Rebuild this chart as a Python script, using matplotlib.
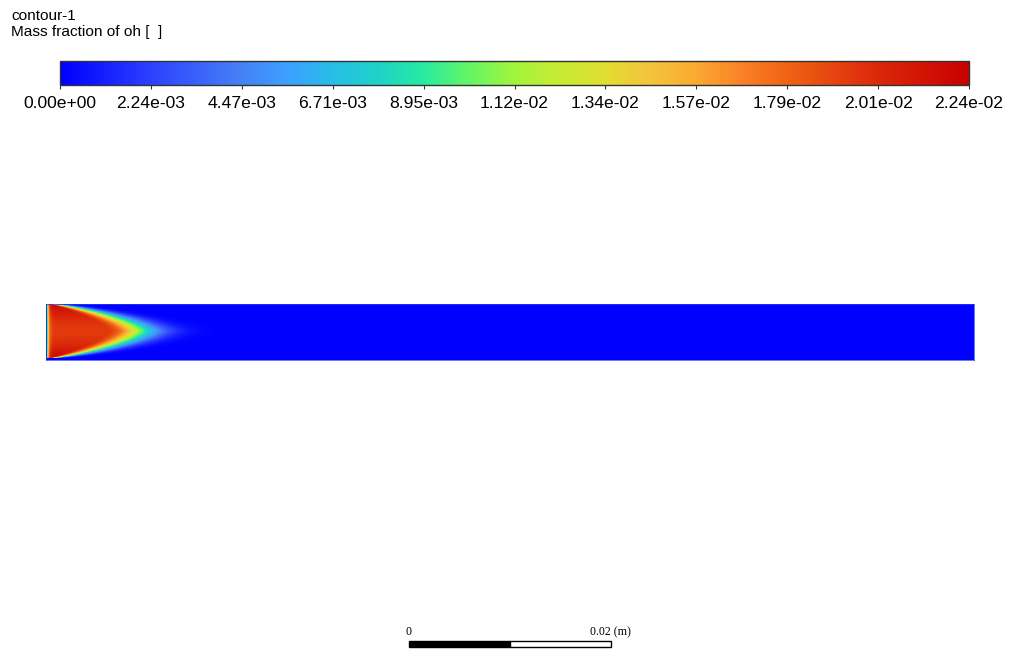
import numpy as np
import matplotlib
matplotlib.use('Agg')
import matplotlib.pyplot as plt
from matplotlib.colors import LinearSegmentedColormap, Normalize
from matplotlib.patches import Rectangle

# text
title_lines = ['contour-1', 'Mass fraction of oh [  ]']
tick_labels = ['0.00e+00', '2.24e-03', '4.47e-03', '6.71e-03', '8.95e-03', '1.12e-02',
               '1.34e-02', '1.57e-02', '1.79e-02', '2.01e-02', '2.24e-02']
vmin = 0.0
vmax = 0.022368

# fluent-like rainbow
cmap_pos = [0.0, 0.1, 0.2, 0.25, 0.3, 0.35, 0.4, 0.45, 0.5, 0.55, 0.6, 0.65,
            0.7, 0.75, 0.8, 0.85, 0.9, 0.95, 1.0]
cmap_rgb = [(0, 0, 255), (45, 65, 255), (70, 130, 245), (60, 160, 255), (40, 190, 230),
            (30, 210, 200), (40, 235, 160), (100, 245, 100), (160, 245, 60), (200, 235, 50),
            (225, 222, 50), (245, 195, 60), (250, 170, 50), (250, 130, 40), (240, 100, 20),
            (230, 70, 15), (220, 40, 10), (210, 20, 5), (200, 0, 0)]

# domain (m)
length_m = 0.0919
height_m = 0.00545
scale_len = 0.02

# oh core near the inlet
core_len = 0.0061       # full value up to here on the axis
fade_len = 0.0042       # decay length of the tail on the axis
fade_pow = 1.8
fade_spread = 0.55      # how much the tail keeps its length off the axis
shape_pow = 1.5         # bluntness of the triangular core
core_axis = 0.87        # fraction of vmax in the core on the axis
core_wall = 1.0         # fraction of vmax in the core near the walls
inlet_layer = 0.00015


def oh_field(nx, ny):
    x = np.linspace(0, length_m, nx)
    y = np.linspace(-height_m / 2, height_m / 2, ny)
    X, Y = np.meshgrid(x, y)
    a = np.abs(Y) / (height_m / 2)
    k = np.clip(1 - a ** shape_pow, 1e-4, None)
    d = np.clip(X - core_len * k, 0, None)
    g = np.exp(-(d / (fade_len * k ** fade_spread)) ** fade_pow)
    core = core_axis + (core_wall - core_axis) * a ** 2
    val = core * g * (1 - np.exp(-X / inlet_layer))
    return val * vmax


W, H = 1020, 664
fig = plt.figure(figsize=(W / 100, H / 100), dpi=100)
fig.patch.set_facecolor('white')

cmap = LinearSegmentedColormap.from_list(
    'fluent', [(p, np.array(c) / 255) for p, c in zip(cmap_pos, cmap_rgb)])
norm = Normalize(vmin, vmax)

# contour
ax = fig.add_axes([46 / W, 1 - 359.5 / H, 928 / W, 55.5 / H])
ax.set_facecolor(cmap(0.0))
field = oh_field(930, 56)
im = ax.imshow(field, origin='lower', extent=[0, length_m, -height_m / 2, height_m / 2],
               aspect='auto', cmap=cmap, norm=norm, interpolation='bilinear')
ax.set_xlim(0, length_m)
ax.set_ylim(-height_m / 2, height_m / 2)
ax.set_xticks([])
ax.set_yticks([])
for s in ax.spines.values():
    s.set_color('#2a3cff')
    s.set_linewidth(0.5)

# colorbar
cax = fig.add_axes([60 / W, 1 - 85 / H, 909 / W, 24 / H])
cb = fig.colorbar(im, cax=cax, orientation='horizontal')
cb.set_ticks(np.linspace(vmin, vmax, len(tick_labels)))
cb.set_ticklabels(tick_labels)
cax.tick_params(axis='x', length=3, width=0.8, color='#333333', pad=5, labelsize=12.6)
for lbl in cax.get_xticklabels():
    lbl.set_fontfamily('Liberation Sans')
cb.outline.set_edgecolor('#333333')
cb.outline.set_linewidth(1.0)

# title
fig.text(11 / W, 1 - 20 / H, title_lines[0], fontsize=11.1, family='Liberation Sans',
         va='baseline', ha='left')
fig.text(11 / W, 1 - 36 / H, title_lines[1], fontsize=11.1, family='Liberation Sans',
         va='baseline', ha='left')

# scale bar, same m-per-pixel as the domain
sb_w = 928 / W * scale_len / length_m
sax = fig.add_axes([409 / W, 1 - 646.5 / H, sb_w, 5.5 / H])
sax.set_xlim(0, scale_len)
sax.set_ylim(0, 1)
sax.axis('off')
sax.add_patch(Rectangle((0, 0), scale_len / 2, 1, facecolor='black', edgecolor='black',
                        lw=1.0, clip_on=False))
sax.add_patch(Rectangle((scale_len / 2, 0), scale_len / 2, 1, facecolor='white',
                        edgecolor='black', lw=1.0, clip_on=False))
sax.annotate('0', xy=(0, 1), xytext=(-4, 3), textcoords='offset pixels', ha='left',
             va='bottom', fontsize=8.6, family='Liberation Serif', annotation_clip=False)
sax.annotate('0.02 (m)', xy=(scale_len, 1), xytext=(20, 3), textcoords='offset pixels',
             ha='right', va='bottom', fontsize=8.6, family='Liberation Serif',
             annotation_clip=False)

fig.savefig('out.png', dpi=100, facecolor='white')
